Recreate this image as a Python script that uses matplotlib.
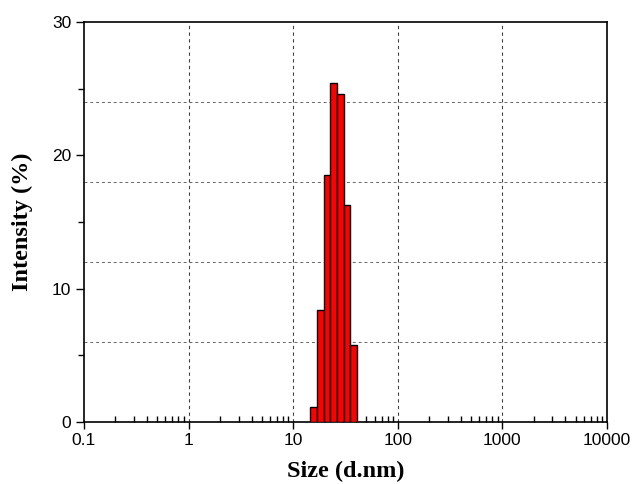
import numpy as np
import matplotlib
matplotlib.use("Agg")
import matplotlib.pyplot as plt
from matplotlib.ticker import LogLocator, FixedLocator, NullFormatter, FixedFormatter

# Data
sizes = [15.69, 18.17, 21.04, 24.36, 28.21, 32.67, 37.84]   # bin centers (d.nm)
intensity = [1.1, 8.4, 18.5, 25.4, 24.6, 16.3, 5.8]          # %
xtick_vals = [0.1, 1, 10, 100, 1000, 10000]
xtick_labels = ["0.1", "1", "10", "100", "1000", "10000"]
ytick_vals = [0, 10, 20, 30]
hgrid = [6, 12, 18, 24]
vgrid = [1, 10, 100, 1000]

fig = plt.figure(figsize=(6.33, 4.84), dpi=100)
ax = fig.add_axes([0.1327, 0.128, 0.8263, 0.8265])

logc = np.log10(sizes)
step = np.mean(np.diff(logc))
lefts = 10 ** (logc - step / 2)
rights = 10 ** (logc + step / 2)
ax.bar(lefts, intensity, width=rights - lefts, align="edge",
       color="#ff0000", edgecolor="black", linewidth=1.0, zorder=3)

ax.set_xscale("log")
ax.set_xlim(0.1, 10000)
ax.set_ylim(0, 30)

for v in vgrid:
    ax.axvline(v, color="#444444", linestyle=(0, (3, 3)), linewidth=0.8, zorder=1)
for h in hgrid:
    ax.axhline(h, color="#666666", linestyle=(0, (3, 3)), linewidth=0.7, zorder=1)

ax.xaxis.set_major_locator(FixedLocator(xtick_vals))
ax.xaxis.set_major_formatter(FixedFormatter(xtick_labels))
ax.xaxis.set_minor_locator(LogLocator(base=10, subs=np.arange(2, 10), numticks=20))
ax.xaxis.set_minor_formatter(NullFormatter())
ax.tick_params(axis="x", which="major", direction="out", length=5, width=1)
ax.tick_params(axis="x", which="minor", direction="in", length=4, width=1)

ax.yaxis.set_major_locator(FixedLocator(ytick_vals))
ax.yaxis.set_minor_locator(FixedLocator([5, 15, 25]))
ax.tick_params(axis="y", which="major", direction="out", length=6, width=1)
ax.tick_params(axis="y", which="minor", direction="out", length=4, width=1)

for lab in ax.get_xticklabels() + ax.get_yticklabels():
    lab.set_fontfamily("Liberation Sans")
    lab.set_fontsize(12.5)
ax.tick_params(axis="both", which="major", pad=3)

for s in ax.spines.values():
    s.set_linewidth(1.2)

ax.set_xlabel("Size (d.nm)", fontfamily="Liberation Serif", fontweight="bold", fontsize=17.5, labelpad=9)
ax.set_ylabel("Intensity (%)", fontfamily="Liberation Serif", fontweight="bold", fontsize=17.5, labelpad=14)

fig.savefig("out.png", dpi=100)
